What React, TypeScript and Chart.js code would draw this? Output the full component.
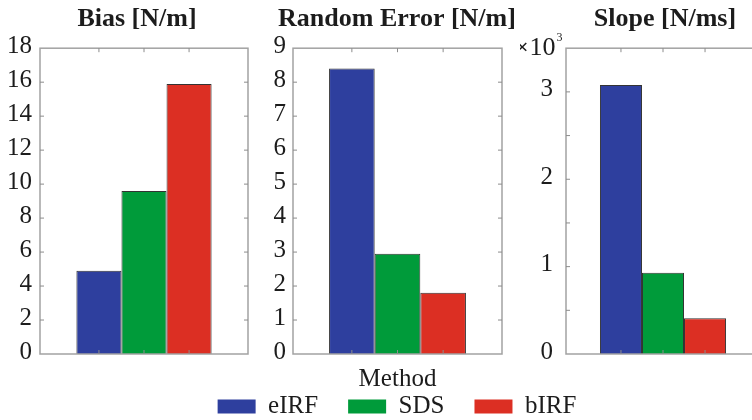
import React, { useEffect, useRef } from 'react';
import { Chart, registerables } from 'chart.js';

Chart.register(...registerables);

// ---------- data ----------
const methods = ['eIRF', 'SDS', 'bIRF'];
const methodColors = ['#2E3F9E', '#009B3A', '#DC2F23'];
const categories = [''];
const biasValues = [4.9, 9.6, 15.9];
const randomErrorValues = [8.4, 2.95, 1.8];
const slopeValues = [3080, 930, 410];
const slopeTickLabels = ['0', '1', '2', '3'];
const panelTitles = ['Bias [N/m]', 'Random Error [N/m]', 'Slope [N/ms]'];
const xAxisTitle = 'Method';
const slopeExponent = '3';

const FONT = '"Liberation Serif", "Times New Roman", serif';
const TEXT = '#1c1c1c';
const CANVAS_H = 429;
const AREA_BOTTOM = 354;

const framePlugin = {
  id: 'frameBox',
  afterDatasetsDraw(chart: any) {
    const { ctx, chartArea: a } = chart;
    const line = (x1: number, y1: number, x2: number, y2: number) => {
      ctx.beginPath();
      ctx.moveTo(x1, y1);
      ctx.lineTo(x2, y2);
      ctx.stroke();
    };
    ctx.save();
    ctx.strokeStyle = '#a2a2a2';
    ctx.lineWidth = 1.5;
    ctx.strokeRect(a.left, a.top, a.right - a.left, a.bottom - a.top);
    ctx.strokeStyle = '#8c8c8c';
    ctx.lineWidth = 1;
    const y = chart.scales.y;
    y.ticks.forEach((t: any) => {
      const py = y.getPixelForValue(t.value);
      if (py <= a.top + 1 || py >= a.bottom - 1) return;
      line(a.left, py, a.left + 4, py);
      line(a.right - 4, py, a.right, py);
    });
    chart.data.datasets.forEach((_d: any, i: number) => {
      const el = chart.getDatasetMeta(i).data[0];
      if (!el) return;
      line(el.x, a.bottom, el.x, a.bottom - 4);
      line(el.x, a.top, el.x, a.top + 4);
    });
    ctx.restore();
  },
};

const exponentPlugin = {
  id: 'exponentLabel',
  afterDraw(chart: any, _args: any, opts: any) {
    if (!opts || !opts.text) return;
    const { ctx, chartArea: a } = chart;
    ctx.save();
    ctx.fillStyle = TEXT;
    ctx.textBaseline = 'alphabetic';
    ctx.textAlign = 'left';
    const x0 = a.left - 50;
    const yb = a.top + 7;
    ctx.font = `bold 22px ${FONT}`;
    ctx.fillText('\u00d7', x0, yb - 1);
    let w = ctx.measureText('\u00d7').width;
    ctx.font = `26px ${FONT}`;
    ctx.fillText('10', x0 + w + 1, yb);
    w += 1 + ctx.measureText('10').width;
    ctx.font = `12px ${FONT}`;
    ctx.fillText(opts.text, x0 + w + 1, yb - 14);
    ctx.restore();
  },
};

type PanelProps = {
  left: number;
  width: number;
  title: string;
  values: number[];
  max: number;
  step: number;
  leftW: number;
  rightW: number;
  tickPad: number;
  catPct: number;
  tickCallback?: (v: number) => string;
  legend?: boolean;
  methodTitle?: boolean;
  exponent?: string;
};

function Panel(p: PanelProps) {
  const ref = useRef<HTMLCanvasElement | null>(null);
  useEffect(() => {
    if (!ref.current) return;
    const xH = p.legend ? 10 : CANVAS_H - AREA_BOTTOM;
    const chart = new Chart(ref.current, {
      type: 'bar',
      data: {
        labels: categories,
        datasets: methods.map((m, i) => ({
          label: m,
          data: [p.values[i]],
          backgroundColor: methodColors[i],
          borderColor: '#333333',
          borderWidth: 1,
          categoryPercentage: p.catPct,
          barPercentage: 1,
        })),
      },
      options: {
        responsive: false,
        animation: false,
        devicePixelRatio: 1,
        events: [],
        layout: { padding: 0 },
        scales: {
          x: {
            display: true,
            grid: { display: false, drawTicks: false },
            border: { display: false },
            ticks: { display: false },
            title: {
              display: !!p.methodTitle,
              text: xAxisTitle,
              color: TEXT,
              font: { family: FONT, size: 25 },
              padding: { top: 0, bottom: -30 },
            },
            afterFit: (s: any) => {
              s.height = xH;
            },
          },
          y: {
            min: 0,
            max: p.max,
            position: 'left',
            grid: { display: false, drawTicks: false },
            border: { display: false },
            ticks: {
              stepSize: p.step,
              padding: p.tickPad,
              labelOffset: -2,
              color: TEXT,
              font: { family: FONT, size: 25 },
              callback: (v: any) => (p.tickCallback ? p.tickCallback(Number(v)) : String(v)),
            },
            afterFit: (s: any) => {
              s.width = p.leftW;
            },
          },
          yRight: {
            type: 'linear',
            position: 'right',
            display: true,
            grid: { display: false, drawTicks: false },
            border: { display: false },
            ticks: { display: false },
            afterFit: (s: any) => {
              s.width = p.rightW;
            },
          },
        },
        plugins: {
          title: {
            display: true,
            text: p.title,
            color: TEXT,
            font: { family: FONT, size: 26, weight: 'bold' },
            padding: { top: 4, bottom: 13 },
          },
          legend: {
            display: !!p.legend,
            position: 'bottom',
            labels: {
              boxWidth: 38,
              boxHeight: 14,
              padding: 30,
              color: TEXT,
              font: { family: FONT, size: 25 },
              generateLabels: (c: any) =>
                Chart.defaults.plugins.legend.labels
                  .generateLabels(c)
                  .map((l: any) => ({ ...l, lineWidth: 0 })),
            },
          },
          tooltip: { enabled: false },
          exponentLabel: { text: p.exponent || '' },
        } as any,
      },
      plugins: [framePlugin, exponentPlugin],
    } as any);
    return () => chart.destroy();
  }, []);
  return (
    <canvas
      ref={ref}
      width={p.width}
      height={CANVAS_H}
      style={{ position: 'absolute', left: p.left, top: 0, width: p.width, height: CANVAS_H }}
    />
  );
}

export default function App() {
  return (
    <div
      style={{
        position: 'fixed',
        left: 0,
        top: 0,
        width: 752,
        height: 420,
        overflow: 'hidden',
        background: '#ffffff',
      }}
    >
      <Panel
        left={0}
        width={274}
        title={panelTitles[0]}
        values={biasValues}
        max={18}
        step={2}
        leftW={40}
        rightW={26}
        tickPad={8}
        catPct={0.65}
      />
      <Panel
        left={42}
        width={710}
        title={panelTitles[1]}
        values={randomErrorValues}
        max={9}
        step={1}
        leftW={251}
        rightW={250}
        tickPad={7}
        catPct={0.655}
        legend
        methodTitle
      />
      <Panel
        left={520}
        width={290}
        title={panelTitles[2]}
        values={slopeValues}
        max={3500}
        step={500}
        leftW={46}
        rightW={50}
        tickPad={13}
        catPct={0.65}
        exponent={slopeExponent}
        tickCallback={(v) => (v % 1000 === 0 ? slopeTickLabels[v / 1000] ?? '' : '')}
      />
    </div>
  );
}
